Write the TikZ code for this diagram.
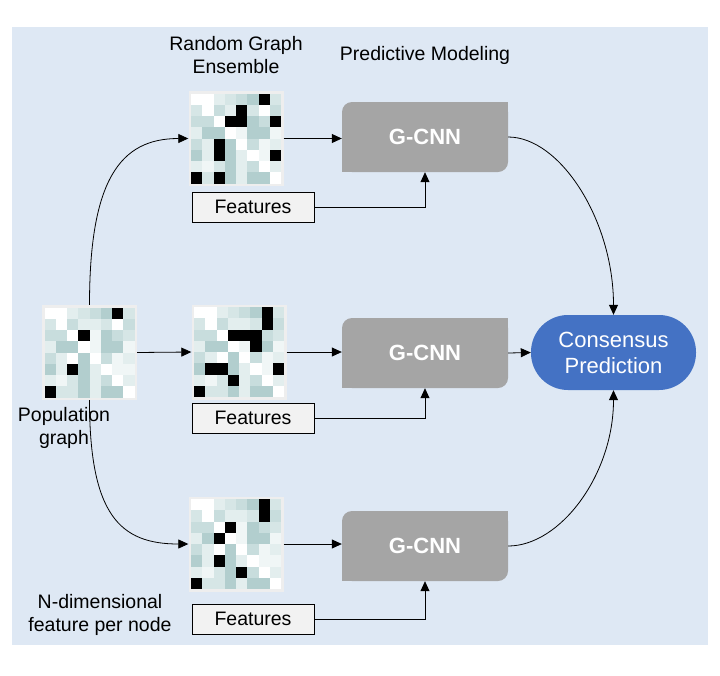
\documentclass[tikz,border=0pt]{standalone}
\usepackage{fontspec}
\setmainfont{Liberation Sans}
\usetikzlibrary{arrows.meta}
\definecolor{bgblue}{HTML}{DEE8F4}
\definecolor{gcnngray}{HTML}{A5A5A5}
\definecolor{consblue}{HTML}{4472C4}
\definecolor{featfill}{HTML}{F2F2F2}
\definecolor{framegray}{HTML}{EEEEEE}
\definecolor{cW}{HTML}{FFFFFF}
\definecolor{cU}{HTML}{F0F6F6}
\definecolor{cV}{HTML}{E3EEEE}
\definecolor{cL}{HTML}{D6E6E6}
\definecolor{cM}{HTML}{C8DDDD}
\definecolor{cD}{HTML}{B2CECE}
\definecolor{cK}{HTML}{000000}
\tikzset{
  matframe/.style={draw=none,fill=framegray,minimum width=95pt,minimum height=95pt,inner sep=0pt},
  gcnnbox/.style={fill=gcnngray,rounded corners=10pt,minimum width=166pt,minimum height=70pt,inner sep=0pt,
    text=white,font=\fontsize{22}{26}\selectfont\bfseries},
  featbox/.style={draw=black,line width=0.9pt,fill=featfill,minimum width=122pt,minimum height=30pt,inner sep=0pt,
    font=\fontsize{19.5}{23}\selectfont},
  consbox/.style={fill=consblue,rounded corners=37pt,minimum width=165pt,minimum height=75pt,inner sep=0pt,
    text=white,align=center,font=\fontsize{22}{26}\selectfont},
  lbl/.style={inner sep=0pt,align=center,font=\fontsize{19.5}{23.5}\selectfont},
  arr/.style={line width=0.8pt,-{Triangle[length=10pt,width=9pt]}},
}
\newcommand\drawmat[4]{%
  \node[matframe] (#1) at (#2,#3) {};
  \foreach \rowcols [count=\r from 0] in {{W,W,V,L,M,D,K,L},{L,W,M,V,V,L,W,M},{M,M,W,K,U,D,M,L},{V,D,D,W,U,D,D,U},{M,V,W,D,W,M,U,V},{D,V,K,D,V,W,U,U},{V,U,L,D,V,M,W,V},{K,L,L,D,V,D,D,W}}{%
    \foreach \cc [count=\c from 0] in \rowcols {%
      \fill[c\cc] (#2-45+11.25*\c,#3-45+11.25*\r) rectangle ++(11.25,11.25);
    }%
  }%
  \foreach \r/\c in {#4} {%
    \fill[black] (#2-45+11.25*\c,#3-45+11.25*\r) rectangle ++(11.25,11.25);
  }%
}
\begin{document}
\begin{tikzpicture}[x=1pt,y=-1pt]
\useasboundingbox (0,0) rectangle (720,675);
\fill[bgblue] (12,27) rectangle (708,645);

% labels
\node[lbl] (lblens) at (236,55) {Random Graph\\Ensemble};
\node[lbl] (lblpred) at (425,55) {Predictive Modeling};
\node[lbl] (lblpop) at (64,428) {Population\\graph};
\node[lbl] (lblnd) at (100,615) {N-dimensional\\feature per node};

% matrices
\drawmat{pop}{89.5}{352.5}{}
\drawmat{mtop}{236}{138.5}{1/4,2/4,2/7,4/2,5/7,7/2}
\drawmat{mmid}{239}{352}{1/6,2/4,2/5,3/5,5/1,5/7,6/3}
\drawmat{mbot}{236}{544}{1/6,3/2,6/4}

% G-CNN boxes
\node[gcnnbox] (g1) at (425,137) {G-CNN};
\node[gcnnbox] (g2) at (425,353) {G-CNN};
\node[gcnnbox] (g3) at (425,546) {G-CNN};
\foreach \g in {g1,g2,g3}{
  \fill[gcnngray] (\g.north east) rectangle ++(-12,12);
  \fill[gcnngray] (\g.south west) rectangle ++(12,-12);
}

% features
\node[featbox] (f1) at (253,207) {Features};
\node[featbox] (f2) at (253,418) {Features};
\node[featbox] (f3) at (253,619) {Features};

% consensus
\node[consbox] (cons) at (613.5,352.5) {Consensus\\Prediction};

% connectors
\draw[arr] (pop.north) .. controls (89.5,180) and (120,138.5) .. (mtop.west);
\draw[arr] (pop.east) -- (mmid.west);
\draw[arr] (pop.south) .. controls (89.5,515) and (120,544) .. (mbot.west);

\draw[arr] (mtop.east) -- (mtop.east -| g1.west);
\draw[arr] (mmid.east) -- (mmid.east -| g2.west);
\draw[arr] (mbot.east) -- (mbot.east -| g3.west);

\draw[arr] (f1.east) -| (g1.south);
\draw[arr] (f2.east) -| (g2.south);
\draw[arr] (f3.east) -| (g3.south);

\draw[arr] (g1.east) .. controls (560,137) and (613.5,220) .. (cons.north);
\draw[arr] (g2.east) -- (cons.west);
\draw[arr] (g3.east) .. controls (560,546) and (613.5,475) .. (cons.south);
\end{tikzpicture}
\end{document}
